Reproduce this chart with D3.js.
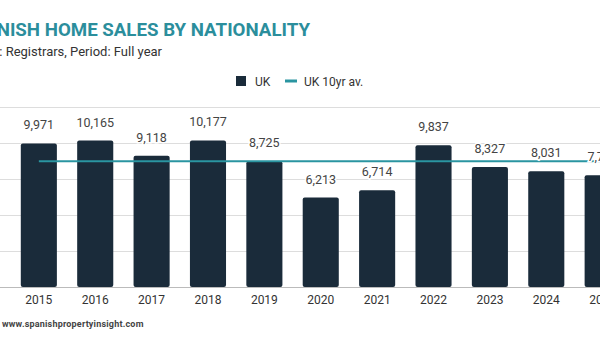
<!DOCTYPE html>
<html>
<head>
<meta charset="utf-8">
<script src="https://cdn.jsdelivr.net/npm/d3@7"></script>
<style>
  body { margin: 0; background: #fff; }
  svg { display: block; font-family: Roboto, "Noto Sans", sans-serif; }
</style>
</head>
<body>
<svg id="chart" width="600" height="350"></svg>
<script>
// data
const years = ["2015", "2016", "2017", "2018", "2019", "2020", "2021", "2022", "2023", "2024", "2025"];
const ukSales = [9971, 10165, 9118, 10177, 8725, 6213, 6714, 9837, 8327, 8031, 7757];
const ukAvg = [8728, 8728, 8728, 8728, 8728, 8728, 8728, 8728, 8728, 8728, 8728];
const yTicks = [0, 2500, 5000, 7500, 10000, 12500];

const svg = d3.select("#chart");
const baseY = 287, topY = 107;

// scales (plot area is wider than the visible crop)
const x = d3.scaleBand().domain(years).range([0.5, 641]).padding(0.36);
const y = d3.scaleLinear().domain([0, 12500]).range([baseY, topY]);

// title + subtitle (left part is cut off in the reference)
svg.append("text")
  .attr("x", 310).attr("y", 36)
  .attr("text-anchor", "end")
  .attr("font-size", 18.7).attr("font-weight", 700)
  .attr("fill", "#2b8e9c")
  .text("SPANISH HOME SALES BY NATIONALITY");
svg.append("text")
  .attr("x", 162).attr("y", 56)
  .attr("text-anchor", "end")
  .attr("font-size", 13)
  .attr("fill", "#333")
  .text("Source: Registrars, Period: Full year");

// legend
const lg = svg.append("g");
lg.append("rect").attr("x", 236).attr("y", 76).attr("width", 10).attr("height", 10).attr("fill", "#1a2b3a");
lg.append("text").attr("x", 255).attr("y", 85.5).attr("font-size", 12).attr("fill", "#333").text("UK");
lg.append("line").attr("x1", 285).attr("x2", 297).attr("y1", 81).attr("y2", 81)
  .attr("stroke", "#2a95a1").attr("stroke-width", 3);
lg.append("text").attr("x", 304).attr("y", 85.5).attr("font-size", 12).attr("fill", "#333").text("UK 10yr av.");

// gridlines
svg.append("g").selectAll("line")
  .data(yTicks)
  .join("line")
  .attr("x1", 0).attr("x2", 600)
  .attr("y1", d => y(d)).attr("y2", d => y(d))
  .attr("stroke", d => d === 0 ? "#bbb" : "#ddd")
  .attr("stroke-width", 1)
  .attr("shape-rendering", "crispEdges");

// bars
svg.append("g").selectAll("rect")
  .data(ukSales)
  .join("rect")
  .attr("x", (d, i) => x(years[i]))
  .attr("width", x.bandwidth())
  .attr("y", d => y(d))
  .attr("height", d => baseY - y(d))
  .attr("rx", 2)
  .attr("fill", "#1a2b3a");

// 10yr average line
const line = d3.line()
  .x((d, i) => x(years[i]) + x.bandwidth() / 2)
  .y(d => y(d));
svg.append("path")
  .datum(ukAvg)
  .attr("d", line)
  .attr("fill", "none")
  .attr("stroke", "#2a95a1")
  .attr("stroke-width", 2);

// value labels
svg.append("g").selectAll("text")
  .data(ukSales)
  .join("text")
  .attr("x", (d, i) => x(years[i]) + x.bandwidth() / 2)
  .attr("y", d => y(d) - 14)
  .attr("text-anchor", "middle")
  .attr("font-size", 12.5)
  .attr("fill", "#444")
  .attr("stroke", "#fff").attr("stroke-width", 3).attr("paint-order", "stroke")
  .text(d => d3.format(",")(d));

// x axis labels
svg.append("g")
  .attr("transform", `translate(0,${baseY})`)
  .call(d3.axisBottom(x).tickSize(0).tickPadding(8))
  .call(g => g.select(".domain").remove())
  .selectAll("text")
  .attr("font-family", "Roboto, sans-serif")
  .attr("font-size", 12)
  .attr("fill", "#333");

// footer
svg.append("text")
  .attr("x", 2).attr("y", 327)
  .attr("font-size", 9).attr("font-weight", 700)
  .attr("letter-spacing", 0.2)
  .attr("fill", "#444")
  .text("www.spanishpropertyinsight.com");
</script>
</body>
</html>
